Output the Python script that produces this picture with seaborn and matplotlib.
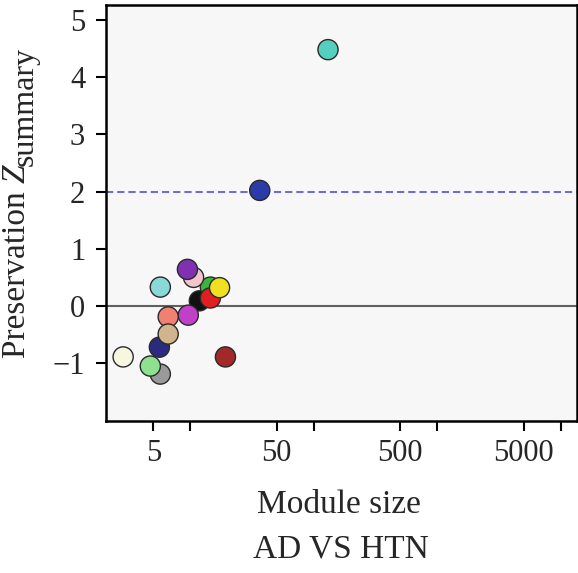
import numpy as np
import pandas as pd
import matplotlib
matplotlib.use("Agg")
import matplotlib.pyplot as plt
import seaborn as sns
from matplotlib.ticker import FixedLocator, NullFormatter

# module preservation values
modules = ["black", "blue", "brown", "cyan", "green", "grey60", "lightgreen",
           "lightyellow", "magenta", "midnightblue", "pink", "purple", "red",
           "salmon", "tan", "turquoise", "yellow"]
module_size = [11.8, 36.4, 19.2, 5.7, 14.5, 5.7, 4.73,
               2.85, 9.6, 5.6, 10.6, 9.45, 14.5,
               6.6, 6.6, 130, 17.2]
z_summary = [0.09, 2.02, -0.89, 0.33, 0.33, -1.19, -1.05,
             -0.89, -0.16, -0.72, 0.50, 0.64, 0.14,
             -0.19, -0.49, 4.48, 0.32]
point_colors = ["#111111", "#2a3ca8", "#a32828", "#8ad8d8", "#3cb43c", "#9a9a9a", "#8fe08f",
                "#f7f7df", "#c040c8", "#2a2a80", "#f2c4cc", "#8030b0", "#e02020",
                "#f08070", "#d2b48c", "#55d0c0", "#f0e020"]
x_ticks = [5, 50, 500, 5000]
x_minor = [10, 100, 1000, 10000]
y_ticks = [-1, 0, 1, 2, 3, 4, 5]

df = pd.DataFrame({"module": modules, "size": module_size, "z": z_summary})

sns.set_style("ticks")
plt.rcParams["font.family"] = ["Liberation Serif", "DejaVu Serif"]

W, H = 578, 573
fig = plt.figure(figsize=(W / 100, H / 100), dpi=100)
ax = fig.add_axes([106 / W, 1 - 421 / H, (577 - 106) / W, (421 - 5) / H])
ax.set_facecolor("#f7f7f7")

ax.axhline(0, color="#606060", lw=1.5, zorder=1)
ax.axhline(2, color="#5c5cd8", lw=1.3, ls=(0, (4, 2.2)), zorder=1)

sns.scatterplot(data=df, x="size", y="z", hue="module",
                palette=dict(zip(modules, point_colors)), legend=False,
                s=210, edgecolor="#2a2a2a", linewidth=1.0, zorder=3, ax=ax)

ax.set_xscale("log")
ax.set_xlim(2.07, 13500)
ax.set_ylim(-2.01, 5.26)
ax.xaxis.set_major_locator(FixedLocator(x_ticks))
ax.xaxis.set_minor_locator(FixedLocator(x_minor))
ax.xaxis.set_minor_formatter(NullFormatter())
ax.set_xticklabels([str(t) for t in x_ticks])
ax.set_yticks(y_ticks)
ax.set_yticklabels([str(t).replace("-", "\u2212") for t in y_ticks])

ax.tick_params(axis="both", which="both", direction="out", length=7, width=1.5,
               labelsize=22, color="black")
ax.tick_params(axis="x", which="both", pad=6)
ax.tick_params(axis="y", which="both", pad=8)
ax.set_xlabel("")
ax.set_ylabel("")
for sp in ax.spines.values():
    sp.set_visible(True)
    sp.set_linewidth(1.8)
    sp.set_color("black")

# x label and subtitle
fig.text(339 / W, 1 - 513 / H, "Module size", fontsize=24, ha="center", va="baseline")
fig.text(341 / W, 1 - 557 / H, "AD VS HTN", fontsize=24, ha="center", va="baseline")

# y label: "Preservation Z" with a near full-size "summary" subscript
r = fig.canvas.get_renderer()
y0 = 1 - 358 / H
t1 = fig.text(25 / W, y0, "Preservation ", fontsize=24, rotation=90,
              rotation_mode="anchor", ha="left", va="baseline")
h1 = t1.get_window_extent(r).height / H
t2 = fig.text(25 / W, y0 + h1, "Z", fontsize=24, style="italic", rotation=90,
              rotation_mode="anchor", ha="left", va="baseline")
h2 = t2.get_window_extent(r).height / H
fig.text(33 / W, y0 + h1 + h2 - 2 / H, "summary", fontsize=23, rotation=90,
         rotation_mode="anchor", ha="left", va="baseline")

fig.savefig("out.png", dpi=100)
